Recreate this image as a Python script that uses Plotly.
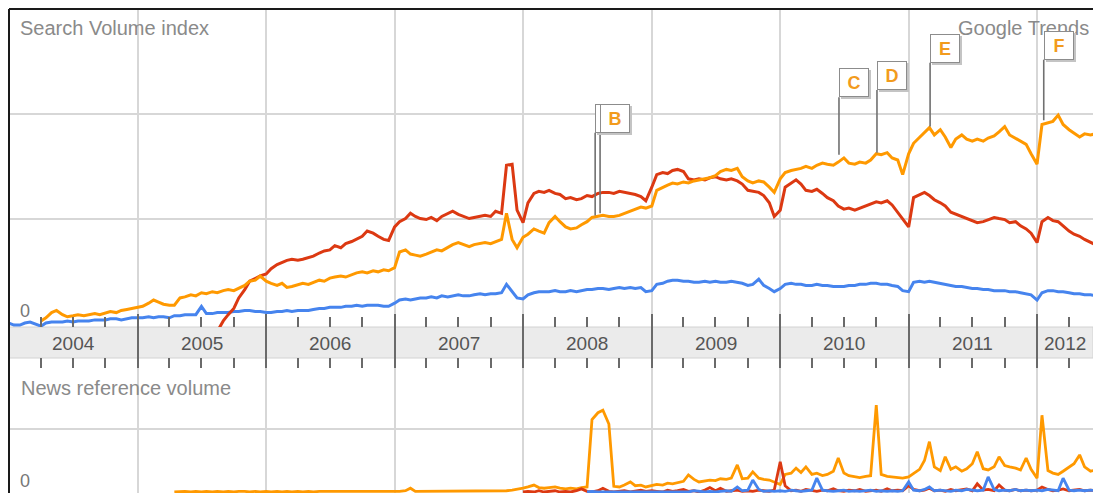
import pandas as pd
import plotly.graph_objects as go

# ---------------- data (semi-monthly samples, 1st & 15th, Jan 2004 .. Jun 2012) ----------------
years = ["2004", "2005", "2006", "2007", "2008", "2009", "2010", "2011", "2012"]

blue_search = [
    [0.00, -0.02, -0.02, 0.00, 0.01, -0.01, -0.03, 0.00, 0.01, 0.01, 0.01, 0.02, 0.01, 0.02, 0.02, 0.02, 0.03, 0.03, 0.03, 0.04, 0.04, 0.03, 0.04, 0.05],
    [0.05, 0.05, 0.06, 0.05, 0.06, 0.06, 0.05, 0.07, 0.07, 0.08, 0.08, 0.08, 0.16, 0.09, 0.09, 0.10, 0.10, 0.10, 0.11, 0.11, 0.12, 0.12, 0.11, 0.11],
    [0.10, 0.10, 0.11, 0.11, 0.12, 0.11, 0.12, 0.12, 0.12, 0.13, 0.14, 0.14, 0.15, 0.15, 0.15, 0.16, 0.16, 0.17, 0.16, 0.17, 0.17, 0.17, 0.16, 0.16],
    [0.19, 0.22, 0.23, 0.22, 0.23, 0.24, 0.24, 0.25, 0.24, 0.26, 0.25, 0.26, 0.27, 0.26, 0.26, 0.27, 0.28, 0.27, 0.28, 0.28, 0.29, 0.37, 0.30, 0.24],
    [0.23, 0.27, 0.29, 0.30, 0.30, 0.30, 0.31, 0.30, 0.30, 0.31, 0.30, 0.31, 0.32, 0.32, 0.33, 0.33, 0.32, 0.33, 0.34, 0.33, 0.34, 0.33, 0.34, 0.30],
    [0.31, 0.37, 0.38, 0.40, 0.41, 0.41, 0.40, 0.40, 0.39, 0.39, 0.40, 0.39, 0.40, 0.39, 0.39, 0.40, 0.39, 0.38, 0.36, 0.37, 0.42, 0.36, 0.33, 0.30],
    [0.33, 0.37, 0.38, 0.37, 0.37, 0.36, 0.36, 0.37, 0.36, 0.36, 0.35, 0.35, 0.35, 0.36, 0.36, 0.37, 0.37, 0.38, 0.38, 0.37, 0.37, 0.36, 0.35, 0.31],
    [0.30, 0.39, 0.40, 0.39, 0.40, 0.39, 0.38, 0.37, 0.36, 0.35, 0.35, 0.34, 0.33, 0.33, 0.32, 0.32, 0.31, 0.31, 0.31, 0.30, 0.30, 0.29, 0.28, 0.27],
    [0.22, 0.29, 0.31, 0.31, 0.30, 0.30, 0.29, 0.28, 0.28, 0.27, 0.27, 0.26],
]

red_search = [
    [None, None, None, None, None, None, None, None, None, None, None, None, None, None, None, None, None, None, None, None, None, None, None, None],
    [None, None, None, None, None, None, None, None, None, None, None, None, None, None, None, -0.08, 0.02, 0.08, 0.14, 0.24, 0.32, 0.40, 0.43, 0.45],
    [0.47, 0.52, 0.56, 0.58, 0.60, 0.61, 0.60, 0.61, 0.63, 0.64, 0.67, 0.69, 0.70, 0.74, 0.72, 0.76, 0.78, 0.80, 0.83, 0.88, 0.86, 0.83, 0.80, 0.79],
    [0.92, 0.97, 1.00, 1.05, 1.02, 1.00, 0.99, 1.01, 0.98, 1.02, 1.05, 1.07, 1.04, 1.02, 1.00, 1.01, 1.02, 1.03, 1.02, 1.07, 1.05, 1.51, 1.52, 1.08],
    [0.96, 1.15, 1.24, 1.26, 1.25, 1.27, 1.24, 1.23, 1.19, 1.20, 1.18, 1.19, 1.22, 1.21, 1.24, 1.25, 1.25, 1.24, 1.26, 1.25, 1.24, 1.23, 1.21, 1.17],
    [1.30, 1.42, 1.44, 1.43, 1.46, 1.47, 1.45, 1.38, 1.37, 1.38, 1.37, 1.39, 1.40, 1.38, 1.37, 1.38, 1.36, 1.33, 1.27, 1.26, 1.25, 1.22, 1.15, 1.02],
    [1.08, 1.30, 1.34, 1.37, 1.33, 1.27, 1.26, 1.28, 1.24, 1.20, 1.17, 1.12, 1.09, 1.10, 1.08, 1.10, 1.12, 1.14, 1.16, 1.15, 1.17, 1.13, 1.06, 1.00],
    [0.92, 1.20, 1.23, 1.25, 1.22, 1.18, 1.15, 1.12, 1.06, 1.04, 1.02, 1.00, 0.98, 0.96, 0.97, 0.99, 1.01, 1.00, 0.99, 0.96, 0.97, 0.93, 0.90, 0.86],
    [0.77, 0.97, 1.01, 0.98, 0.97, 0.93, 0.88, 0.85, 0.83, 0.80, 0.77, 0.75],
]

orange_search = [
    [None, None, None, None, None, None, 0.02, 0.05, 0.10, 0.12, 0.08, 0.06, 0.07, 0.08, 0.07, 0.08, 0.09, 0.08, 0.10, 0.11, 0.10, 0.12, 0.13, 0.14],
    [0.15, 0.16, 0.19, 0.22, 0.20, 0.18, 0.17, 0.17, 0.24, 0.25, 0.27, 0.26, 0.29, 0.28, 0.30, 0.29, 0.31, 0.32, 0.31, 0.33, 0.36, 0.40, 0.41, 0.45],
    [0.40, 0.38, 0.36, 0.38, 0.34, 0.35, 0.37, 0.38, 0.37, 0.39, 0.41, 0.40, 0.43, 0.44, 0.45, 0.44, 0.46, 0.48, 0.49, 0.48, 0.50, 0.49, 0.51, 0.50],
    [0.53, 0.68, 0.70, 0.66, 0.65, 0.64, 0.66, 0.68, 0.70, 0.69, 0.72, 0.75, 0.77, 0.75, 0.73, 0.75, 0.76, 0.77, 0.76, 0.78, 0.80, 1.05, 0.80, 0.72],
    [0.82, 0.85, 0.90, 0.88, 0.86, 0.96, 1.02, 0.97, 0.92, 0.90, 0.91, 0.94, 0.97, 1.01, 1.02, 1.03, 1.02, 1.02, 1.03, 1.05, 1.07, 1.09, 1.11, 1.10],
    [1.12, 1.27, 1.30, 1.32, 1.34, 1.33, 1.35, 1.34, 1.36, 1.37, 1.38, 1.39, 1.41, 1.45, 1.47, 1.46, 1.48, 1.40, 1.36, 1.34, 1.36, 1.35, 1.30, 1.25],
    [1.38, 1.44, 1.46, 1.47, 1.48, 1.50, 1.48, 1.51, 1.53, 1.52, 1.51, 1.54, 1.58, 1.53, 1.52, 1.54, 1.53, 1.56, 1.62, 1.61, 1.63, 1.58, 1.56, 1.42],
    [1.62, 1.72, 1.78, 1.82, 1.87, 1.80, 1.85, 1.78, 1.68, 1.76, 1.80, 1.76, 1.74, 1.76, 1.74, 1.77, 1.79, 1.83, 1.88, 1.80, 1.77, 1.74, 1.71, 1.62],
    [1.52, 1.90, 1.92, 1.93, 1.99, 1.90, 1.85, 1.82, 1.78, 1.81, 1.80, 1.81],
]

orange_news = [
    [None, None, None, None, None, None, None, None, None, None, None, None, None, None, None, None, None, None, None, None, None, None, None, None],
    [None, None, None, None, None, None, None, 0.00, 0.01, 0.01, 0.00, 0.01, 0.00, 0.01, 0.00, 0.01, 0.00, 0.01, 0.00, 0.01, 0.01, 0.00, 0.01, 0.00],
    [0.01, 0.00, 0.01, 0.00, 0.01, 0.00, 0.01, 0.00, 0.01, 0.00, 0.01, 0.01, 0.00, 0.01, 0.01, 0.00, 0.01, 0.00, 0.01, 0.00, 0.01, 0.01, 0.00, 0.01],
    [0.01, 0.01, 0.02, 0.06, 0.01, 0.01, 0.02, 0.01, 0.01, 0.02, 0.01, 0.01, 0.02, 0.01, 0.01, 0.02, 0.02, 0.01, 0.02, 0.01, 0.02, 0.02, 0.03, 0.04],
    [0.06, 0.08, 0.11, 0.07, 0.06, 0.07, 0.08, 0.06, 0.05, 0.06, 0.05, 0.07, 0.08, 1.15, 1.26, 1.30, 1.08, 0.09, 0.08, 0.11, 0.16, 0.10, 0.11, 0.08],
    [0.10, 0.12, 0.11, 0.14, 0.13, 0.15, 0.17, 0.27, 0.20, 0.16, 0.17, 0.19, 0.18, 0.21, 0.20, 0.22, 0.43, 0.21, 0.22, 0.32, 0.22, 0.20, 0.19, 0.16],
    [0.12, 0.28, 0.30, 0.38, 0.31, 0.40, 0.28, 0.30, 0.26, 0.28, 0.33, 0.54, 0.30, 0.26, 0.25, 0.23, 0.25, 0.26, 1.38, 0.28, 0.25, 0.24, 0.23, 0.22],
    [0.24, 0.30, 0.36, 0.50, 0.80, 0.40, 0.34, 0.56, 0.36, 0.40, 0.33, 0.37, 0.45, 0.64, 0.37, 0.35, 0.40, 0.56, 0.42, 0.40, 0.38, 0.35, 0.54, 0.36],
    [0.22, 1.22, 0.34, 0.30, 0.28, 0.33, 0.40, 0.45, 0.59, 0.40, 0.33, 0.35],
]

red_news = [
    [None, None, None, None, None, None, None, None, None, None, None, None, None, None, None, None, None, None, None, None, None, None, None, None],
    [None, None, None, None, None, None, None, None, None, None, None, None, None, None, None, None, None, None, None, None, None, None, None, None],
    [None, None, None, None, None, None, None, None, None, None, None, None, None, None, None, None, None, None, None, None, None, None, None, None],
    [None, None, None, None, None, None, None, None, None, None, None, None, None, None, None, None, None, None, None, None, None, None, None, None],
    [0.00, 0.01, 0.00, 0.02, 0.00, 0.01, 0.02, 0.00, 0.01, 0.00, 0.02, 0.05, 0.01, 0.00, 0.02, 0.06, 0.01, 0.00, 0.01, 0.02, 0.00, 0.01, 0.03, 0.01],
    [0.02, 0.01, 0.00, 0.03, 0.01, 0.02, 0.04, 0.01, 0.02, 0.00, 0.03, 0.07, 0.02, 0.06, 0.01, 0.02, 0.03, 0.01, 0.02, 0.01, 0.03, 0.02, 0.01, 0.03],
    [0.48, 0.10, 0.02, 0.03, 0.01, 0.04, 0.02, 0.01, 0.03, 0.02, 0.05, 0.02, 0.01, 0.03, 0.02, 0.04, 0.01, 0.02, 0.03, 0.01, 0.05, 0.02, 0.03, 0.02],
    [0.10, 0.04, 0.02, 0.03, 0.06, 0.02, 0.03, 0.01, 0.04, 0.02, 0.03, 0.05, 0.02, 0.13, 0.03, 0.04, 0.02, 0.11, 0.03, 0.02, 0.04, 0.02, 0.03, 0.02],
    [0.03, 0.08, 0.04, 0.02, 0.03, 0.05, 0.02, 0.03, 0.04, 0.02, 0.03, 0.02],
]

blue_news = [
    [None, None, None, None, None, None, None, None, None, None, None, None, None, None, None, None, None, None, None, None, None, None, None, None],
    [None, None, None, None, None, None, None, None, None, None, None, None, None, None, None, None, None, None, None, None, None, None, None, None],
    [None, None, None, None, None, None, None, None, None, None, None, None, None, None, None, None, None, None, None, None, None, None, None, None],
    [None, None, None, None, None, None, None, None, None, None, None, None, None, None, None, None, None, None, None, None, None, None, None, None],
    [None, None, None, None, None, None, None, None, None, None, None, None, 0.00, 0.01, 0.00, 0.00, 0.01, 0.00, 0.00, 0.01, 0.00, 0.00, 0.01, 0.00],
    [0.00, 0.01, 0.00, 0.01, 0.00, 0.00, 0.01, 0.00, 0.02, 0.01, 0.00, 0.01, 0.00, 0.01, 0.02, 0.01, 0.08, 0.02, 0.03, 0.19, 0.04, 0.01, 0.02, 0.01],
    [0.02, 0.01, 0.03, 0.02, 0.01, 0.02, 0.03, 0.22, 0.03, 0.02, 0.01, 0.02, 0.03, 0.01, 0.02, 0.01, 0.02, 0.03, 0.01, 0.02, 0.01, 0.02, 0.01, 0.02],
    [0.16, 0.03, 0.02, 0.04, 0.08, 0.02, 0.03, 0.02, 0.01, 0.03, 0.02, 0.04, 0.03, 0.02, 0.03, 0.24, 0.04, 0.02, 0.03, 0.02, 0.04, 0.02, 0.03, 0.02],
    [0.03, 0.02, 0.04, 0.03, 0.02, 0.22, 0.03, 0.02, 0.03, 0.02, 0.03, 0.02],
]

flag_letters = ["A", "B", "C", "D", "E", "F"]
flag_dates = ["2008-07-24", "2008-08-07", "2010-06-17", "2010-10-03", "2011-03-03", "2012-01-20"]
flag_values = [1.03, 1.05, 1.61, 1.63, 1.88, 1.94]
flag_box_levels = [1.82, 1.82, 2.16, 2.23, 2.49, 2.52]

# ---------------- build ----------------
def flat(rows):
    out = []
    for r in rows:
        out.extend(r)
    return out

dates = pd.date_range("2004-01-01", periods=204, freq="SMS")

X_RANGE = [pd.Timestamp("2004-01-01"), pd.Timestamp("2012-06-08")]
FONT = "Liberation Sans, Arial, sans-serif"
BLUE, RED, ORANGE = "#4684ee", "#dc3912", "#ff9900"
GRID = "#d7d7d7"
TICK = "#6a6a6a"

fig = go.Figure()
for vals, col in [(blue_search, BLUE), (red_search, RED), (orange_search, ORANGE)]:
    fig.add_trace(go.Scatter(x=dates, y=flat(vals), mode="lines", xaxis="x", yaxis="y",
                             line=dict(color=col, width=3), hoverinfo="skip", showlegend=False))
for vals, col in [(orange_news, ORANGE), (red_news, RED), (blue_news, BLUE)]:
    fig.add_trace(go.Scatter(x=dates, y=flat(vals), mode="lines", xaxis="x2", yaxis="y2",
                             line=dict(color=col, width=2.8), hoverinfo="skip", showlegend=False))

# year label positions: centre of each year's visible part
label_pos = []
for y in years:
    a = max(pd.Timestamp(f"{y}-01-01"), X_RANGE[0])
    b = min(pd.Timestamp(f"{int(y)+1}-01-01"), X_RANGE[1])
    label_pos.append(a + (b - a) / 2)

# full-window figure; the page body margin is removed by the post script
H, W = 493, 1093
T, L = 9, 9
PH = 484
def py(pix):  # screen pixel row -> paper fraction
    return (493 - pix) / PH
def px(pix):  # screen pixel column -> paper fraction
    return (pix - 9) / 1084

top_dom = [py(327), 1.0]
bot_dom = [0.0, py(358)]

common_x = dict(type="date", range=X_RANGE, showgrid=True, gridcolor=GRID, gridwidth=1.6,
                dtick="M12", tick0="2004-01-01", zeroline=False, showline=False,
                ticks="outside", ticklen=43, tickwidth=2, tickcolor=TICK, showticklabels=False,
                minor=dict(dtick="M3", tick0="2004-01-01", ticks="inside", ticklen=10,
                           tickwidth=2, tickcolor=TICK, showgrid=False),
                fixedrange=True)

fig.update_layout(
    width=W, height=H,
    margin=dict(l=L, r=0, t=T, b=0, pad=0),
    paper_bgcolor="white", plot_bgcolor="rgba(0,0,0,0)",
    font=dict(family=FONT),
    hovermode=False,
    xaxis=dict(anchor="y", domain=[0, 1], **common_x),
    xaxis2=dict(anchor="y2", domain=[0, 1], side="top", **common_x),
    yaxis=dict(domain=top_dom, range=[-0.038, 3.005], tickvals=[1, 2], showticklabels=False,
               showgrid=True, gridcolor=GRID, gridwidth=1.6, zeroline=False, ticks="", fixedrange=True),
    yaxis2=dict(domain=bot_dom, range=[-0.016, 2.13], tickvals=[1], showticklabels=False,
                showgrid=True, gridcolor=GRID, gridwidth=1.6, zeroline=False, ticks="", fixedrange=True),
)

shapes = [
    # grey year band
    dict(type="rect", xref="paper", yref="paper", x0=0, x1=1, y0=py(358), y1=py(327),
         fillcolor="#ebebeb", line=dict(color="#d2d2d2", width=1), layer="below"),
    # frame
    dict(type="line", xref="paper", yref="paper", x0=0, x1=0, y0=0, y1=1.0,
         line=dict(color="#1a1a1a", width=2), layer="above"),
    dict(type="line", xref="paper", yref="paper", x0=0, x1=1, y0=1.0, y1=1.0,
         line=dict(color="#1a1a1a", width=2), layer="above"),
]
for d, v, lv in zip(flag_dates, flag_values, flag_box_levels):
    shapes.append(dict(type="line", xref="x", yref="y", x0=d, x1=d, y0=v, y1=lv,
                       line=dict(color="#707070", width=1.6), layer="above"))
fig.update_layout(shapes=shapes)

ann = [
    dict(text="Search Volume index", xref="paper", yref="paper", x=px(18), y=py(28),
         xanchor="left", yanchor="middle", showarrow=False, font=dict(size=20, color="#8a8a8a")),
    dict(text="Google Trends", xref="paper", yref="paper", x=px(956), y=py(28),
         xanchor="left", yanchor="middle", showarrow=False, font=dict(size=20, color="#8a8a8a")),
    dict(text="News reference volume", xref="paper", yref="paper", x=px(19), y=py(388),
         xanchor="left", yanchor="middle", showarrow=False, font=dict(size=20, color="#8a8a8a")),
    dict(text="0", xref="paper", yref="y", x=px(18), y=0, xanchor="left", yanchor="bottom",
         showarrow=False, font=dict(size=18, color="#777777")),
    dict(text="0", xref="paper", yref="y2", x=px(18), y=0, xanchor="left", yanchor="bottom",
         yshift=-1, showarrow=False, font=dict(size=18, color="#777777")),
]
for yl, pos in zip(years, label_pos):
    ann.append(dict(text=yl, xref="x", yref="paper", x=pos, y=py(343), xanchor="center",
                    yanchor="middle", showarrow=False, font=dict(size=19, color="#555555")))
for letter, d, lv in zip(flag_letters, flag_dates, flag_box_levels):
    ann.append(dict(text=" ", xref="x", yref="y", x=d, y=lv, xanchor="left", yanchor="bottom",
                    xshift=2, yshift=-2, showarrow=False, width=26, height=25, borderpad=1,
                    bgcolor="#c4c4c4", bordercolor="#c4c4c4", borderwidth=1))
    ann.append(dict(text="<b>" + letter + "</b>", xref="x", yref="y", x=d, y=lv,
                    xanchor="left", yanchor="bottom", showarrow=False, width=26, height=25,
                    borderpad=1, bgcolor="white", bordercolor="#8c8c8c", borderwidth=1,
                    font=dict(size=18, color="#f29b1d")))
fig.update_layout(annotations=ann)

fig.write_html("out.html", config={"displayModeBar": False},
               post_script="document.body.style.margin='0px';"
                           "document.documentElement.style.overflow='hidden';"
                           "document.body.style.overflow='hidden';")
